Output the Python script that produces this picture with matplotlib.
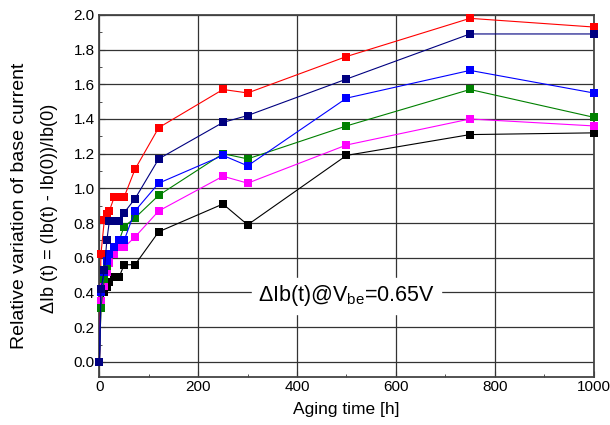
import matplotlib
matplotlib.use("Agg")
import matplotlib.pyplot as plt
from matplotlib.ticker import MultipleLocator, FormatStrFormatter

plt.rcParams["font.family"] = ["Liberation Sans", "DejaVu Sans"]
plt.rcParams["mathtext.fontset"] = "custom"
plt.rcParams["mathtext.rm"] = "Liberation Sans"

# aging time points [h]
hours = [0, 3, 10, 15, 20, 30, 40, 50, 72, 120, 250, 300, 500, 750, 1000]

# relative variation of base current for each device
red     = [0, 0.62, 0.82, 0.85, 0.87, 0.95, 0.95, 0.95, 1.11, 1.35, 1.57, 1.55, 1.76, 1.98, 1.93]
black   = [0, 0.31, 0.40, 0.43, 0.46, 0.49, 0.49, 0.56, 0.56, 0.75, 0.91, 0.79, 1.19, 1.31, 1.32]
magenta = [0, 0.35, 0.44, 0.52, 0.57, 0.62, 0.66, 0.66, 0.72, 0.87, 1.07, 1.03, 1.25, 1.40, 1.36]
green   = [0, 0.31, 0.48, 0.55, 0.62, 0.66, 0.70, 0.78, 0.83, 0.96, 1.20, 1.17, 1.36, 1.57, 1.41]
blue    = [0, 0.40, 0.52, 0.58, 0.62, 0.66, 0.70, 0.70, 0.87, 1.03, 1.19, 1.13, 1.52, 1.68, 1.55]
navy    = [0, 0.42, 0.53, 0.70, 0.81, 0.81, 0.81, 0.86, 0.94, 1.17, 1.38, 1.42, 1.63, 1.89, 1.89]

series = [
    (red, "#FF0000"),
    (black, "#000000"),
    (magenta, "#FF00FF"),
    (green, "#008000"),
    (blue, "#0000FF"),
    (navy, "#000080"),
]

fig = plt.figure(figsize=(6.1, 4.25), dpi=100)
ax = fig.add_axes([0.163, 0.113, 0.81, 0.852])

for vals, col in series:
    ax.plot(hours, vals, color=col, linewidth=0.8, marker="s",
            markersize=6, markeredgewidth=0, clip_on=False, zorder=3)

ax.set_xlim(0, 1000)
ax.set_ylim(-0.087, 2.0)
ax.xaxis.set_major_locator(MultipleLocator(200))
ax.xaxis.set_minor_locator(MultipleLocator(100))
ax.yaxis.set_major_locator(MultipleLocator(0.2))
ax.yaxis.set_minor_locator(MultipleLocator(0.1))
ax.yaxis.set_major_formatter(FormatStrFormatter("%.1f"))
ax.tick_params(which="both", direction="in", labelsize=11, color="#333333")
ax.tick_params(which="major", length=4)
ax.tick_params(which="minor", length=2.5)
ax.tick_params(axis="x", pad=2)
ax.grid(True, which="major", color="#333333", linewidth=0.9)
for sp in ax.spines.values():
    sp.set_color("#444444")
    sp.set_linewidth(1.3)

ax.set_xlabel("Aging time [h]", fontsize=12.5, labelpad=6)

# two-line y label, placed by hand like the original
fig.text(20 / 610, 1 - 206 / 425, "Relative variation of base current",
         rotation=90, fontsize=14, ha="center", va="center")
fig.text(50 / 610, 1 - 208 / 425, "\u0394Ib (t) = (Ib(t) - Ib(0))/Ib(0)",
         rotation=90, fontsize=13, ha="center", va="center")

ax.text(500, 0.38, r"$\Delta$Ib(t)@V$_{\rm be}$=0.65V", fontsize=15.5,
        ha="center", va="center", backgroundcolor="white", zorder=4)

fig.savefig("out.png", dpi=100)
